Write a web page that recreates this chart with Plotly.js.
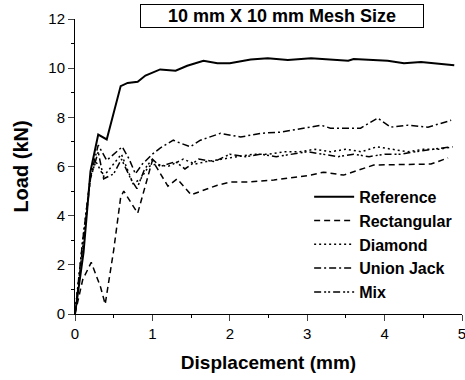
<!DOCTYPE html>
<html>
<head>
<meta charset="utf-8">
<script src="https://cdn.plot.ly/plotly-3.0.1.min.js"></script>
<style>html,body{margin:0;padding:0;background:#fff;}#chart{width:465px;height:380px;}</style>
</head>
<body>
<div id="chart"></div>
<script>
const refX = [0,0.11,0.2,0.3,0.41,0.59,0.68,0.81,0.91,1.1,1.3,1.45,1.66,1.84,2.0,2.27,2.49,2.75,3.05,3.18,3.53,3.6,4.04,4.25,4.47,4.9];
const refY = [0,2.5,5.8,7.3,7.1,9.27,9.4,9.45,9.7,9.95,9.9,10.1,10.3,10.2,10.2,10.35,10.4,10.33,10.4,10.37,10.3,10.37,10.3,10.2,10.25,10.12];

const rectX = [0,0.1,0.21,0.33,0.39,0.5,0.59,0.63,0.81,0.89,1.0,1.2,1.32,1.5,1.84,2.01,2.23,2.57,2.79,3.05,3.21,3.47,3.86,4.3,4.6,4.82];
const rectY = [0,1.4,2.1,1.1,0.4,2.6,4.75,5.0,4.1,5.0,6.25,5.2,5.5,4.85,5.24,5.37,5.37,5.45,5.53,5.65,5.77,5.65,6.06,6.1,6.1,6.35];

const diaX = [0,0.1,0.2,0.27,0.37,0.5,0.6,0.75,0.85,0.95,1.05,1.2,1.4,1.55,1.7,1.9,2.1,2.3,2.5,2.7,2.9,3.1,3.3,3.5,3.7,3.9,4.1,4.3,4.5,4.7,4.88];
const diaY = [0,3.0,5.6,6.2,5.6,6.1,6.5,5.3,5.5,6.0,6.1,6.0,6.3,6.1,6.2,6.3,6.4,6.5,6.5,6.6,6.6,6.7,6.6,6.7,6.6,6.8,6.7,6.6,6.7,6.7,6.8];

const ujX = [0,0.1,0.2,0.3,0.41,0.5,0.61,0.7,0.78,0.87,1.0,1.1,1.27,1.32,1.49,1.62,1.88,2.14,2.4,2.66,3.05,3.18,3.3,3.69,3.91,4.08,4.3,4.56,4.86];
const ujY = [0,3.0,5.6,6.87,6.25,6.5,6.8,6.3,5.7,6.1,6.5,6.75,7.07,7.0,6.8,7.07,7.35,7.2,7.35,7.4,7.6,7.68,7.56,7.56,7.97,7.6,7.68,7.6,7.88];

const mixX = [0,0.1,0.2,0.3,0.37,0.5,0.6,0.72,0.8,0.9,1.0,1.1,1.3,1.42,1.6,1.8,2.0,2.2,2.4,2.6,2.8,3.0,3.2,3.4,3.6,3.8,4.0,4.2,4.4,4.6,4.85];
const mixY = [0,2.8,5.5,6.6,5.5,5.7,6.3,5.5,5.1,5.9,6.3,6.0,6.2,5.9,6.3,6.2,6.5,6.4,6.5,6.4,6.5,6.6,6.5,6.4,6.5,6.4,6.5,6.5,6.6,6.7,6.8];

const seriesNames = ["Reference","Rectangular","Diamond","Union Jack","Mix"];
const titleText = "10 mm X 10 mm Mesh Size";
const xTicks = [0,1,2,3,4,5];
const yTicks = [0,2,4,6,8,10,12];

const F = "Liberation Sans, Arial, Helvetica, sans-serif";
const traces = [
  {x: refX, y: refY, name: seriesNames[0], line: {color: "#000", width: 2, dash: "solid"}},
  {x: rectX, y: rectY, name: seriesNames[1], line: {color: "#000", width: 1.5, dash: "6px,4px"}},
  {x: diaX, y: diaY, name: seriesNames[2], line: {color: "#000", width: 1.5, dash: "2px,3px"}},
  {x: ujX, y: ujY, name: seriesNames[3], line: {color: "#000", width: 1.5, dash: "7px,3px,2px,3px"}},
  {x: mixX, y: mixY, name: seriesNames[4], line: {color: "#000", width: 1.5, dash: "7px,3px,2px,2px,2px,3px"}}
].map(t => Object.assign({type: "scatter", mode: "lines"}, t));

const layout = {
  width: 465, height: 380,
  margin: {l: 75, r: 3, t: 19, b: 66},
  paper_bgcolor: "#fff", plot_bgcolor: "#fff",
  font: {family: F, color: "#000", size: 14},
  showlegend: true,
  legend: {x: 0.605, y: 0.455, xanchor: "left", yanchor: "top", bgcolor: "rgba(0,0,0,0)",
           font: {family: F, size: 16, weight: "bold"}, tracegroupgap: 0, itemwidth: 40},
  xaxis: {range: [0, 5], tickvals: xTicks, ticks: "outside", ticklen: 6, tickwidth: 1,
          showline: true, linecolor: "#000", linewidth: 1, showgrid: false, zeroline: false,
          ticklabeloverflow: "allow",
          minor: {dtick: 0.5, ticks: "outside", ticklen: 3, tickcolor: "#000", showgrid: false},
          tickfont: {size: 15},
          title: {text: "Displacement (mm)", font: {size: 19, weight: "bold"}, standoff: 14}},
  yaxis: {range: [0, 12], tickvals: yTicks, ticks: "outside", ticklen: 6, tickwidth: 1,
          showline: true, linecolor: "#000", linewidth: 1, showgrid: false, zeroline: false,
          minor: {dtick: 1, ticks: "outside", ticklen: 3, tickcolor: "#000", showgrid: false},
          tickfont: {size: 15},
          title: {text: "Load (kN)", font: {size: 20, weight: "bold"}, standoff: 14}},
  annotations: [{
    text: "<b>" + titleText + "</b>", xref: "paper", yref: "paper",
    x: 0.535, y: 1.01, xanchor: "center", yanchor: "middle", showarrow: false,
    font: {family: F, size: 18, color: "#000"},
    bordercolor: "#000", borderwidth: 1, borderpad: 1, width: 280, height: 20, bgcolor: "#fff"
  }]
};

Plotly.newPlot("chart", traces, layout, {displayModeBar: false, staticPlot: true});
</script>
</body>
</html>
